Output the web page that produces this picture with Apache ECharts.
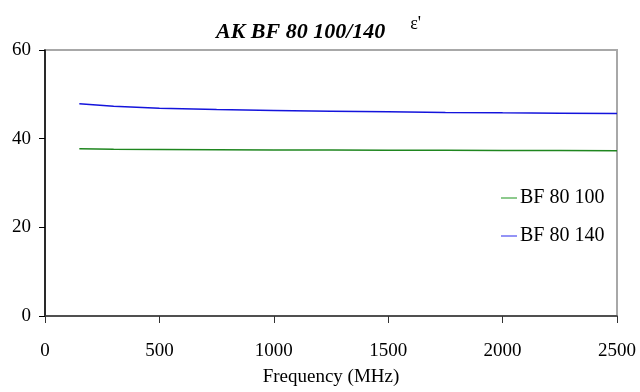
<!DOCTYPE html>
<html>
<head>
<meta charset="utf-8">
<script src="https://cdn.jsdelivr.net/npm/echarts@6/dist/echarts.min.js"></script>
<style>
  html, body { margin: 0; padding: 0; background: #fff; }
  #chart { width: 640px; height: 392px; }
</style>
</head>
<body>
<div id="chart"></div>
<script>
// Real permittivity of two BF 80 samples versus frequency
const titleMain = 'AK BF 80 100/140';
const titleSymbol = "\u03b5'";
const xAxisName = 'Frequency (MHz)';
const frequency = [150, 300, 500, 750, 1000, 1250, 1500, 1750, 2000, 2250, 2500];
const seriesNames = ['BF 80 100', 'BF 80 140'];
const bf80_100 = [37.74, 37.62, 37.56, 37.50, 37.46, 37.43, 37.39, 37.36, 37.34, 37.32, 37.30];
const bf80_140 = [47.85, 47.30, 46.88, 46.58, 46.37, 46.20, 46.06, 45.93, 45.83, 45.74, 45.65];
const xTicks = { min: 0, max: 2500, interval: 500 };
const yTicks = { min: 0, max: 60, interval: 20 };

const pair = (xs, ys) => xs.map((x, i) => [x, ys[i]]);
const serif = '"Liberation Serif", "DejaVu Serif", serif';
const lineColors = ['#1f861f', '#1414dc'];
const legendColors = ['#4fae4f', '#5a5af2'];

const chart = echarts.init(document.getElementById('chart'), null, { renderer: 'canvas' });
chart.setOption({
  animation: false,
  backgroundColor: '#ffffff',
  title: {
    text: '{a|' + titleMain + '}     {b|' + titleSymbol + '}',
    left: 211,
    top: 10,
    textStyle: {
      rich: {
        a: { fontFamily: serif, fontSize: 22, fontWeight: 'bold', fontStyle: 'italic', color: '#000', verticalAlign: 'bottom' },
        b: { fontFamily: serif, fontSize: 18, fontWeight: 'normal', color: '#000', padding: [0, 0, 10, 0] }
      }
    }
  },
  grid: {
    left: 45, right: 23, top: 50, bottom: 69,
    show: true,
    borderColor: '#a8a8a8',
    borderWidth: 2
  },
  legend: {
    orient: 'vertical',
    left: 496,
    top: 183,
    itemWidth: 16,
    itemHeight: 14,
    itemGap: 18,
    icon: 'rect',
    textStyle: { fontFamily: serif, fontSize: 20, color: '#000', padding: [0, 0, 0, -2] },
    data: seriesNames.map((n, i) => ({
      name: n,
      icon: 'path://M0,6.5 L16,6.5 L16,7.8 L0,7.8 Z',
      itemStyle: { color: legendColors[i], borderWidth: 0 }
    }))
  },
  xAxis: {
    type: 'value',
    min: xTicks.min, max: xTicks.max, interval: xTicks.interval,
    name: xAxisName,
    nameLocation: 'middle',
    nameGap: 52,
    nameTextStyle: { fontFamily: serif, fontSize: 19, color: '#000' },
    axisLine: { show: true, lineStyle: { color: '#333', width: 1.5 } },
    axisTick: { show: true, inside: false, length: 7, lineStyle: { color: '#333', width: 1 } },
    axisLabel: { margin: 26, fontFamily: serif, fontSize: 19, color: '#000', formatter: v => String(v) },
    splitLine: { show: false }
  },
  yAxis: {
    type: 'value',
    min: yTicks.min, max: yTicks.max, interval: yTicks.interval,
    axisLine: { show: true, lineStyle: { color: '#000', width: 1.5 } },
    axisTick: { show: true, inside: false, length: 6, lineStyle: { color: '#000', width: 1 } },
    axisLabel: { margin: 14, fontFamily: serif, fontSize: 19, color: '#000', formatter: v => String(v) },
    splitLine: { show: false }
  },
  series: [
    {
      name: seriesNames[0],
      type: 'line',
      data: pair(frequency, bf80_100),
      showSymbol: false,
      symbol: 'none',
      color: lineColors[0],
      lineStyle: { width: 1.5, color: lineColors[0] }
    },
    {
      name: seriesNames[1],
      type: 'line',
      data: pair(frequency, bf80_140),
      showSymbol: false,
      symbol: 'none',
      color: lineColors[1],
      lineStyle: { width: 1.5, color: lineColors[1] }
    }
  ]
});
</script>
</body>
</html>
